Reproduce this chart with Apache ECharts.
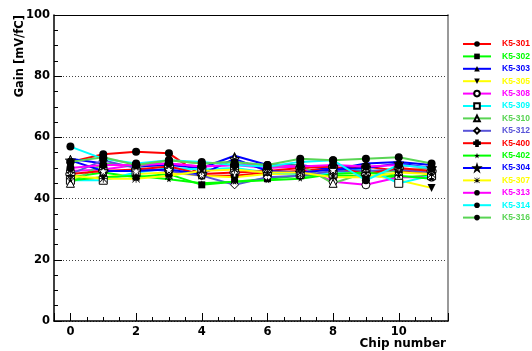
<!DOCTYPE html>
<html><head><meta charset="utf-8">
<script src="https://cdn.jsdelivr.net/npm/echarts@6/dist/echarts.min.js"></script>
<style>html,body{margin:0;padding:0;background:#fff}#c{width:532px;height:351px}</style>
</head><body><div id="c"></div>
<script>
var chips = [0,1,2,3,4,5,6,7,8,9,10,11];
var names = ['K5-301','K5-302','K5-303','K5-305','K5-308','K5-309','K5-310','K5-312','K5-400','K5-402','K5-304','K5-307','K5-313','K5-314','K5-316'];
var g301 = [52, 54.5, 55.3, 54.8, 47.5, 47.5, 48.5, 49, 50, 50.5, 49, 48];
var g302 = [47, 48.5, 47, 48, 44.5, 45.5, 46.5, 47.5, 47.5, 47.5, 47, 47.5];
var g303 = [53, 51.5, 50.5, 51, 50, 54, 51, 51, 49.5, 51.5, 52, 51];
var g305 = [46.5, 47, 48, 48.5, 47.5, 47, 48, 48, 48.5, 48, 46, 43.5];
var g308 = [49, 49.5, 51, 51.5, 50.5, 51, 50, 50.5, 45.5, 44.5, 47, 47];
var g309 = [46, 46, 48.5, 50, 49.5, 50, 48.5, 48, 48, 50, 45, 47.5];
var g310 = [45, 51.5, 50.5, 52.5, 51.5, 52, 50.5, 51, 45, 48.5, 49, 50];
var g312 = [48, 52.5, 50, 49, 47.5, 44.5, 47, 47.5, 49, 49, 49.5, 48.5];
var g400 = [48, 49, 49.5, 50.5, 48, 48.5, 49, 50, 50.5, 48, 50, 49];
var g402 = [46, 47, 47.5, 46.3, 45, 45.5, 46, 46.5, 48, 48.5, 47.5, 46.5];
var g304 = [52.5, 49, 49, 49.5, 48, 53, 49, 48.5, 49.5, 50, 51.5, 50];
var g307 = [47.5, 46.5, 46.5, 47.5, 49, 49.5, 48.5, 48.5, 47, 47, 48.5, 48];
var g313 = [50, 51, 51, 51.5, 50.5, 51, 51, 50.5, 51, 50.5, 51, 50];
var g314 = [57, 53, 51.5, 52.5, 52, 51, 50.5, 52, 52.5, 46, 51, 50];
var g316 = [52, 53.5, 51, 52.5, 51.5, 52, 51, 53, 52.5, 53, 53.5, 51.5];
var values = [g301,g302,g303,g305,g308,g309,g310,g312,g400,g402,g304,g307,g313,g314,g316];

var colors = ['#ff0000','#00ff00','#0000ff','#ffff00','#ff00ff','#00ffff','#59d454','#5954d8','#ff0000','#00ff00','#0000ff','#ffff00','#ff00ff','#00ffff','#59d454'];
var STAR = 'path://M5,0 L6.2,3.6 L10,3.6 L7,5.9 L8.1,9.5 L5,7.3 L1.9,9.5 L3,5.9 L0,3.6 L3.8,3.6 Z';
var TRIDOWN = 'path://M0,0 L10,0 L5,10 Z';
var CROSS = 'path://M3.5,0 H6.5 V3.5 H10 V6.5 H6.5 V10 H3.5 V6.5 H0 V3.5 H3.5 Z';
var ASTER = 'path://M4.5,0 H5.5 V10 H4.5 Z M0,4.5 H10 V5.5 H0 Z M0.7,0 L10,9.3 L9.3,10 L0,0.7 Z M9.3,0 L10,0.7 L0.7,10 L0,9.3 Z';
var symbols = ['circle','rect','triangle',TRIDOWN,'circle','rect','triangle','diamond',CROSS,STAR,STAR,ASTER,'circle','circle','circle'];
var open = [false,false,false,false,true,true,true,true,true,false,true,false,false,false,false];
var sizes = [8,7,8,8,8,8,8,8,9,6,10,8,8,8,8];

var font = 'DejaVu Sans';
var series = names.map(function(n,i){
  return {
    name: n, type: 'line', xAxisIndex: 0, yAxisIndex: 0,
    data: chips.map(function(c,j){ return [c, values[i][j]]; }),
    symbol: symbols[i], symbolSize: sizes[i], showAllSymbol: true,
    lineStyle: {color: colors[i], width: 2},
    itemStyle: open[i] ? {color:'#ffffff', borderColor:'#000', borderWidth:1} : {color:'#000', borderColor:'#000', borderWidth:0},
    emphasis: {disabled: true}
  };
});

var chart = echarts.init(document.getElementById('c'), null, {renderer:'canvas'});
chart.setOption({
  animation: false,
  backgroundColor: '#fff',
  grid: {left: 54, right: 84, top: 15, bottom: 30, show: false},
  legend: {
    orient: 'vertical', left: 462, top: 39, padding: 0,
    itemWidth: 28, itemHeight: 7, itemGap: 2.4,
    textStyle: {fontFamily: 'Liberation Sans', fontWeight: 'bold', fontSize: 8.5, lineHeight: 10, padding: [0,0,0,6]},
    data: names.map(function(n,i){ return {name: n, textStyle: {color: colors[i]}}; }),
    selectedMode: false
  },
  xAxis: [
    {type:'value', min:-0.5, max:11.5, interval:0.5, position:'bottom',
     axisLine:{show:true, onZero:false, lineStyle:{color:'#000', width:1.5}},
     axisTick:{show:true, inside:true, length:4, lineStyle:{color:'#000'}},
     axisLabel:{margin:5, color:'#000', fontFamily:font, fontWeight:'bold', fontSize:11.5,
       formatter:function(v){ return (Math.abs(v-Math.round(v))<1e-6 && Math.round(v)%2===0 && v>=0 && v<=10) ? String(Math.round(v)) : ''; }},
     splitLine:{show:false}},
    {type:'value', min:-0.5, max:11.5, splitNumber:6, position:'bottom',
     axisLine:{show:false, onZero:false},
     axisTick:{show:true, inside:true, length:8, lineStyle:{color:'#000'}},
     axisLabel:{show:false}, splitLine:{show:false}},
    {type:'value', min:-0.5, max:11.5, position:'top',
     axisLine:{show:true, onZero:false, lineStyle:{color:'#000', width:1}},
     axisTick:{show:false}, axisLabel:{show:false}, splitLine:{show:false}}
  ],
  yAxis: [
    {type:'value', min:0, max:100, interval:20, position:'left',
     axisLine:{show:true, onZero:false, lineStyle:{color:'#000', width:1.5}},
     axisTick:{show:true, inside:true, length:8, lineStyle:{color:'#000'}},
     minorTick:{show:true, splitNumber:4, length:4, lineStyle:{color:'#000'}},
     axisLabel:{margin:4, color:'#000', fontFamily:font, fontWeight:'bold', fontSize:11.5},
     splitLine:{show:true, lineStyle:{color:'#444', width:1, type:[1,2]}}},
    {type:'value', min:0, max:100, position:'right',
     axisLine:{show:true, onZero:false, lineStyle:{color:'#999', width:2}},
     axisTick:{show:false}, axisLabel:{show:false}, splitLine:{show:false}}
  ],
  graphic: [
    {type:'text', x:20, y:15, rotation:Math.PI/2,
     style:{text:'Gain [mV/fC]', fill:'#000', font:'bold 11.5px "DejaVu Sans"', align:'right', verticalAlign:'middle'}},
    {type:'text', x:446, y:344,
     style:{text:'Chip number', fill:'#000', font:'bold 12px "DejaVu Sans"', align:'right', verticalAlign:'middle'}}
  ],
  series: series
});
</script>
</body></html>
